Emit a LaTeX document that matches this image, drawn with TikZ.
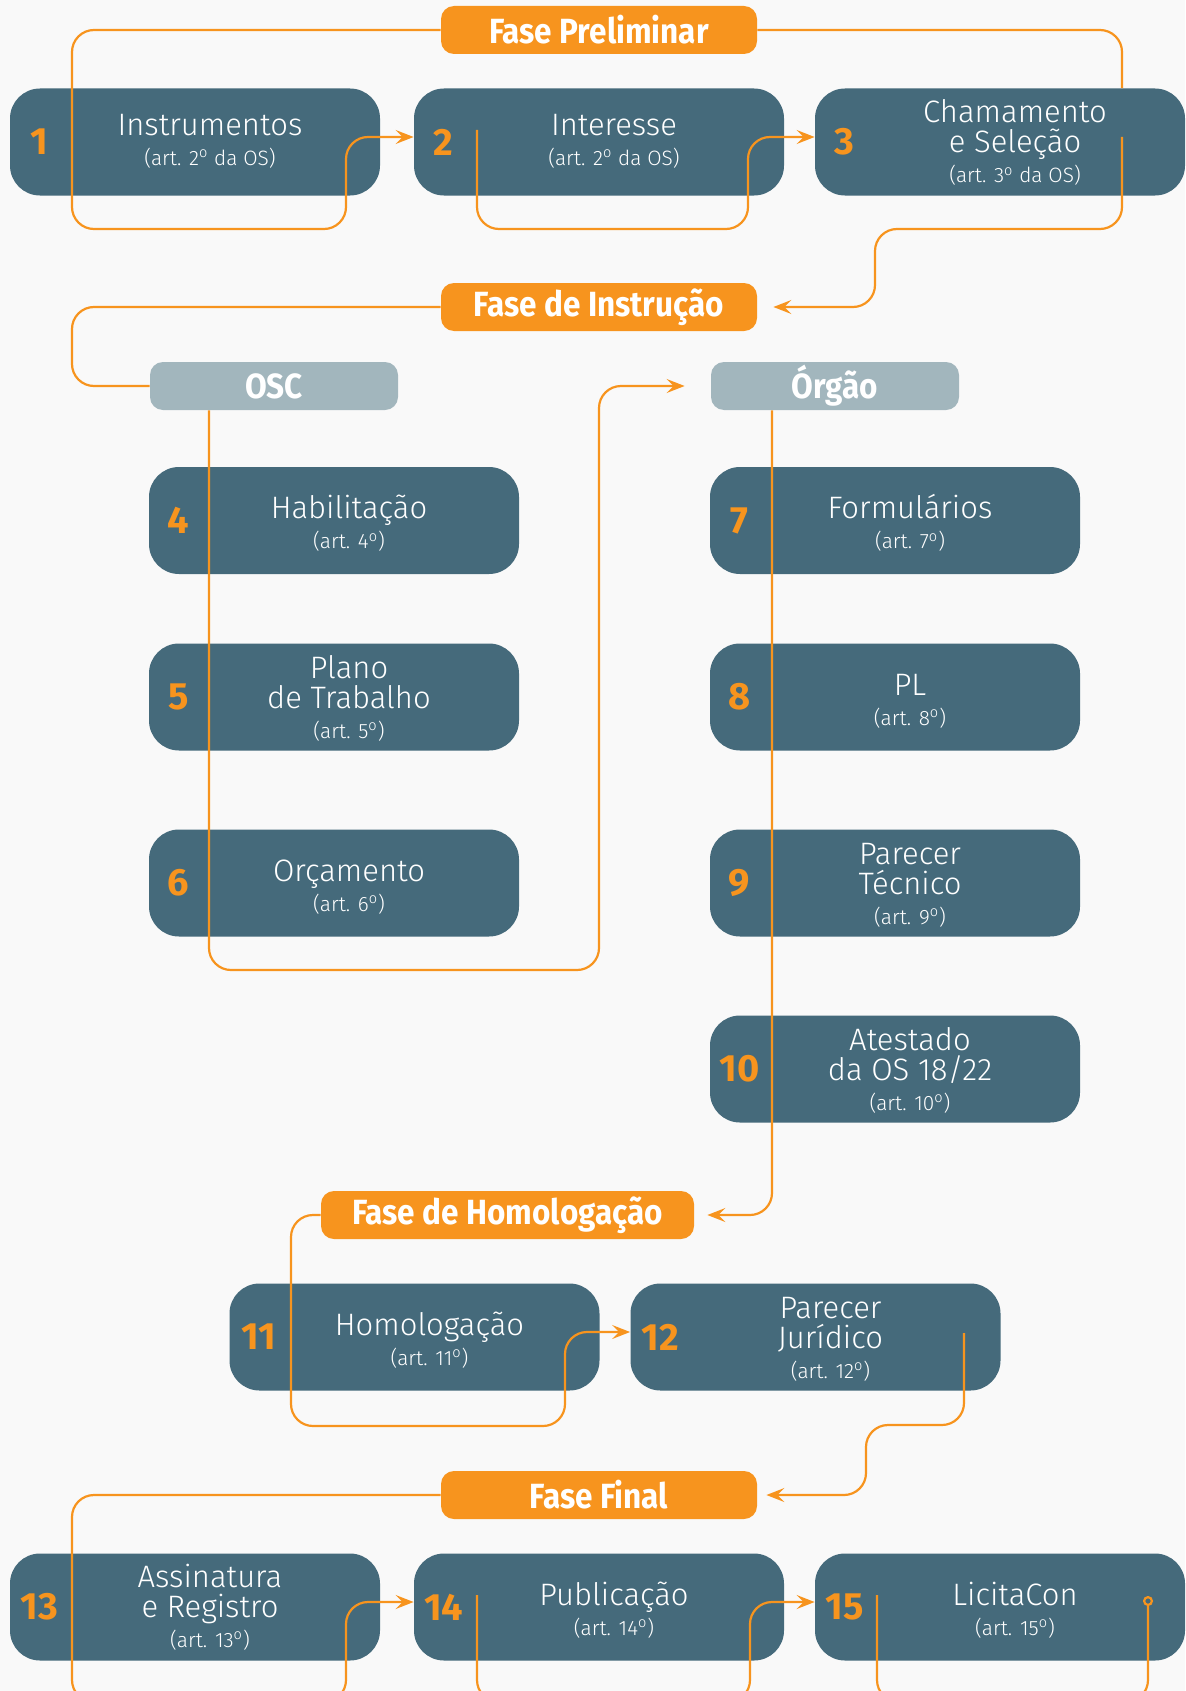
\documentclass[tikz,border=0pt]{standalone}
\usepackage{fontspec}
\setmainfont{Fira Sans}[UprightFont={* Light},BoldFont={* Bold}]
\newfontfamily\fasefont{Fira Sans}[FakeStretch=0.9]
\usepackage{xcolor}
\usepackage{tikz}
\usetikzlibrary{arrows.meta,calc}
\definecolor{ardosia}{HTML}{456A7B}
\definecolor{laranja}{HTML}{F7941E}
\definecolor{cinza}{HTML}{A2B6BD}
\definecolor{fundo}{HTML}{F9F9F9}
\newcommand{\art}[1]{{\fontsize{10.4}{15}\selectfont #1}}
\newcommand{\ord}{\textsuperscript{o}}

\begin{document}
\begin{tikzpicture}[x=0.5pt,y=-0.5pt,>={Stealth[length=9pt,width=7pt,inset=3.5pt]},
  etapa/.style={fill=ardosia,rounded corners=15pt,minimum width=185pt,minimum height=53.5pt,inner sep=0pt},
  fase/.style={fill=laranja,rounded corners=6.5pt,minimum width=158pt,minimum height=24pt,inner sep=0pt,
    text=white,font=\fasefont\bfseries\fontsize{17.5}{17.5}\selectfont},
  ator/.style={fase,fill=cinza,minimum width=124pt},
  num/.style={text=laranja,font=\bfseries\fontsize{19}{19}\selectfont},
  titulo/.style={text=white,align=center,anchor=base,font=\fontsize{15.5}{15}\selectfont},
  fio/.style={draw=laranja,line width=1.1pt,rounded corners=11pt}]
  \useasboundingbox (0,0) rectangle (1185,1691);
  \fill[fundo] (0,0) rectangle (1185,1691);
  \clip (0,0) rectangle (1185,1691);

  % fases e atores
  \node[fase] (fp) at (599,30) {Fase Preliminar};
  \node[fase] (fi) at (599,307) {Fase de Instrução};
  \node[fase,minimum width=186.5pt] (fh) at (507.5,1215) {Fase de Homologação};
  \node[fase] (ff) at (599,1495) {Fase Final};
  \node[ator] (osc) at (274,386) {OSC};
  \node[ator] (orgao) at (835,386) {Órgão};

  % etapas (dy = linha de base da ultima linha)
  \foreach \i/\x/\y/\dy/\txt in {
    1/195/142/-11.5/{Instrumentos\\\art{(art. 2\ord{} da OS)}},
    2/599/142/-11.5/{Interesse\\\art{(art. 2\ord{} da OS)}},
    3/1000/142/-20.5/{Chamamento\\e Seleção\\\art{(art. 3\ord{} da OS)}},
    4/334/520.5/-14/{Habilitação\\\art{(art. 4\ord)}},
    5/334/697/-20.5/{Plano\\de Trabalho\\\art{(art. 5\ord)}},
    6/334/883/-14/{Orçamento\\\art{(art. 6\ord)}},
    7/895/520.5/-14/{Formulários\\\art{(art. 7\ord)}},
    8/895/697/-14/{PL\\\art{(art. 8\ord)}},
    9/895/883/-20.5/{Parecer\\Técnico\\\art{(art. 9\ord)}},
    10/895/1069/-20.5/{Atestado\\da OS 18/22\\\art{(art. 10\ord)}},
    11/414.5/1337/-14/{Homologação\\\art{(art. 11\ord)}},
    12/815.5/1337/-20.5/{Parecer\\Jurídico\\\art{(art. 12\ord)}},
    13/195/1607/-20/{Assinatura\\e Registro\\\art{(art. 13\ord)}},
    14/599/1607/-14/{Publicação\\\art{(art. 14\ord)}},
    15/1000/1607/-14/{LicitaCon\\\art{(art. 15\ord)}}}
  {
    \node[etapa] (e\i) at (\x,\y) {};
    \node[num] (n\i) at ([xshift=15pt]e\i.west) {\i};
    \node[titulo] (t\i) at ([xshift=7.5pt,yshift=\dy pt]e\i.center) {\txt};
  }

  % pontos de saida dentro das etapas
  \coordinate (d2) at (477,130);
  \coordinate (d3) at (1122,137);
  \coordinate (d12) at (964,1333);
  \coordinate (d14) at (477,1595);
  \coordinate (d15) at (877,1595);
  \coordinate (f15) at (1148,1596);

  % ligacoes
  \draw[fio,->] (fp.west) -- (72,30) -- (72,229) -- (346,229) -- (346,137) -- ([yshift=2.5pt]e2.west);
  \draw[fio,->] (d2) -- (477,229) -- (748,229) -- (748,137) -- ([yshift=2.5pt]e3.west);
  \draw[fio] (fp.east) -- (1122,30) -- (e3.north -| d3);
  \draw[fio,->,shorten >=8pt] (d3) -- (1122,229) -- (875,229) -- (875,307) -- (fi.east);
  \draw[fio] (fi.west) -- (72,307) -- (72,386) -- (osc.west);
  \draw[fio,->,shorten >=13pt] ([xshift=-32.5pt]osc.south) -- (209,970) -- (599,970) -- (599,386) -- (orgao.west);
  \draw[fio,->,shorten >=6.5pt] ([xshift=-31.5pt]orgao.south) -- (772,1215) -- (fh.east);
  \draw[fio,->] (fh.west) -- (291,1215) -- (291,1426) -- (565,1426) -- (565,1332) -- ([yshift=2.5pt]e12.west);
  \draw[fio,->,shorten >=4.5pt] (d12) -- (964,1425) -- (866,1425) -- (866,1495) -- (ff.east);
  \draw[fio,->] (ff.west) -- (72,1495) -- (72,1702) -- (346,1702) -- (346,1602) -- ([yshift=2.5pt]e14.west);
  \draw[fio,->] (d14) -- (477,1702) -- (750,1702) -- (750,1602) -- ([yshift=2.5pt]e15.west);
  \draw[fio,-{Circle[open,length=5pt]}] (d15) -- (877,1702) -- (1148,1702) -- (f15);
\end{tikzpicture}
\end{document}
